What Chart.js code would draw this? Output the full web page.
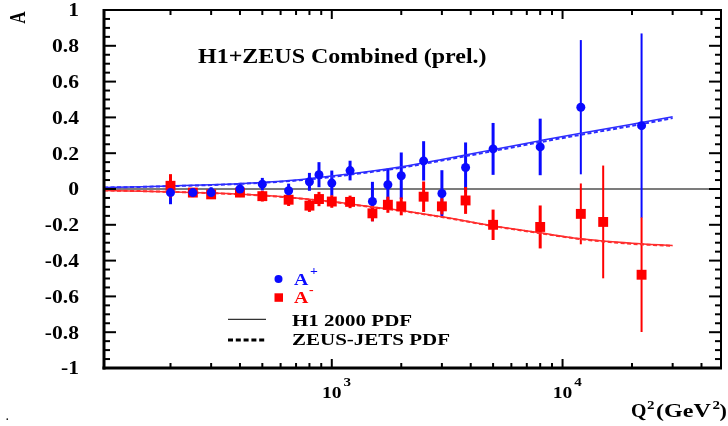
<!DOCTYPE html>
<html>
<head>
<meta charset="utf-8">
<script src="https://cdn.jsdelivr.net/npm/chart.js@4.4.1/dist/chart.umd.min.js"></script>
<style>
  html, body { margin: 0; padding: 0; background: #fff; overflow: hidden; }
  #wrap { width: 728px; height: 426px; }
  canvas { display: block; }
</style>
</head>
<body>
<div id="wrap"><canvas id="chart" width="728" height="426"></canvas></div>
<script>
// Measured asymmetries, Q^2 in GeV^2
const q2Plus = [200, 250, 300, 400, 500, 650, 800, 880, 1000, 1200, 1500, 1750, 2000, 2500, 3000, 3800, 5000, 8000, 12000, 22000];
const aPlus = [-0.02, -0.02, -0.02, 0.0, 0.027, -0.01, 0.04, 0.08, 0.033, 0.103, -0.07, 0.024, 0.074, 0.157, -0.025, 0.12, 0.224, 0.235, 0.457, 0.354];
const aPlusErr = [0.065, 0.025, 0.03, 0.035, 0.035, 0.04, 0.05, 0.07, 0.07, 0.055, 0.11, 0.09, 0.13, 0.11, 0.13, 0.14, 0.145, 0.158, 0.375, 0.515];

const q2Minus = [200, 250, 300, 400, 500, 650, 800, 880, 1000, 1200, 1500, 1750, 2000, 2500, 3000, 3800, 5000, 8000, 12000, 15000, 22000];
const aMinus = [0.018, -0.02, -0.03, -0.02, -0.04, -0.06, -0.093, -0.056, -0.07, -0.072, -0.136, -0.088, -0.097, -0.043, -0.097, -0.064, -0.2, -0.212, -0.139, -0.184, -0.479];
const aMinusErr = [0.065, 0.025, 0.025, 0.025, 0.03, 0.035, 0.035, 0.04, 0.035, 0.035, 0.045, 0.045, 0.05, 0.085, 0.045, 0.075, 0.085, 0.12, 0.17, 0.315, 0.32];

// Theory predictions
const curveQ2 = [103, 150, 200, 300, 500, 700, 1000, 1500, 2000, 3000, 5000, 8000, 12000, 20000, 30000];
const h1Plus = [0.009, 0.013, 0.017, 0.024, 0.037, 0.05, 0.072, 0.1, 0.124, 0.165, 0.22, 0.27, 0.312, 0.362, 0.404];
const zeusPlus = [0.008, 0.012, 0.016, 0.022, 0.035, 0.047, 0.068, 0.096, 0.119, 0.159, 0.212, 0.262, 0.303, 0.353, 0.396];
const h1Minus = [-0.008, -0.012, -0.016, -0.022, -0.035, -0.05, -0.07, -0.1, -0.12, -0.155, -0.205, -0.245, -0.278, -0.303, -0.316];
const zeusMinus = [-0.008, -0.012, -0.016, -0.023, -0.036, -0.051, -0.072, -0.102, -0.122, -0.157, -0.207, -0.247, -0.28, -0.306, -0.318];

// Axis ticks
const yTickValues = [1, 0.8, 0.6, 0.4, 0.2, 0, -0.2, -0.4, -0.6, -0.8, -1];
const yTickLabels = ['1', '0.8', '0.6', '0.4', '0.2', '0', '-0.2', '-0.4', '-0.6', '-0.8', '-1'];
const xTickValues = [1000, 10000];
const xTickBase = ['10', '10'];
const xTickExp = ['3', '4'];
const xMinorTicks = [200, 300, 400, 500, 600, 700, 800, 900, 2000, 3000, 4000, 5000, 6000, 7000, 8000, 9000, 20000, 30000, 40000];

const BLUE = '#0a0aff';
const RED = '#ff0000';
const BLUE_LINE = 'rgb(45,45,255)';
const RED_LINE = 'rgb(255,45,45)';
const SERIF = '"Liberation Serif", "Times New Roman", serif';

function toPoints(xs, ys) {
    return xs.map((x, i) => ({ x: x, y: ys[i] }));
}

function drawText(ctx, str, x, y, size, color, align, sx) {
    ctx.save();
    ctx.font = 'bold ' + size + 'px ' + SERIF;
    ctx.fillStyle = color;
    ctx.textAlign = 'left';
    ctx.textBaseline = 'alphabetic';
    const w = ctx.measureText(str).width * sx;
    let x0 = x;
    if (align === 'right') x0 = x - w;
    else if (align === 'center') x0 = x - w / 2;
    ctx.translate(x0, y);
    ctx.scale(sx, 1);
    ctx.fillText(str, 0, 0);
    ctx.restore();
    return x0 + w;
}

function line(ctx, x1, y1, x2, y2) {
    ctx.beginPath();
    ctx.moveTo(x1, y1);
    ctx.lineTo(x2, y2);
    ctx.stroke();
}

/**
 * Zero line, error bars, frame with inward ticks, and all text.
 */
const hepPlugin = {
    id: 'hep',
    beforeDatasetsDraw(chart) {
        const ctx = chart.ctx;
        const a = chart.chartArea;
        const ys = chart.scales.y;
        ctx.save();
        ctx.strokeStyle = '#505050';
        ctx.lineWidth = 1.5;
        const y0 = ys.getPixelForValue(0);
        line(ctx, a.left, y0, a.right, y0);

        // error bars for the two measured series
        [0, 1].forEach(idx => {
            const ds = chart.data.datasets[idx];
            const meta = chart.getDatasetMeta(idx);
            ctx.strokeStyle = ds.backgroundColor;
            meta.data.forEach((pt, i) => {
                const v = ds.data[i].y;
                const e = ds.errors[i];
                ctx.lineWidth = e >= 0.16 ? 2 : 3;
                line(ctx, pt.x, ys.getPixelForValue(v + e), pt.x, ys.getPixelForValue(v - e));
            });
        });
        ctx.restore();
    },
    afterDraw(chart) {
        const ctx = chart.ctx;
        const a = chart.chartArea;
        const xs = chart.scales.x;
        const ys = chart.scales.y;
        ctx.save();
        ctx.strokeStyle = '#000';

        // y ticks, left and right, pointing inward
        ctx.lineWidth = 2;
        for (let k = -20; k <= 20; k++) {
            const v = k * 0.05;
            const py = ys.getPixelForValue(v);
            const major = k % 4 === 0;
            const len = major ? 12 : 6;
            line(ctx, a.left, py, a.left + len, py);
            line(ctx, a.right, py, a.right - len, py);
        }
        // x ticks, top and bottom
        xTickValues.forEach(v => {
            const px = xs.getPixelForValue(v);
            line(ctx, px, a.bottom, px, a.bottom - 9);
            line(ctx, px, a.top, px, a.top + 9);
        });
        xMinorTicks.forEach(v => {
            const px = xs.getPixelForValue(v);
            line(ctx, px, a.bottom, px, a.bottom - 5);
            line(ctx, px, a.top, px, a.top + 5);
        });

        // frame
        ctx.lineWidth = 3;
        line(ctx, a.left, a.top - 1, a.left, a.bottom + 1.5);
        line(ctx, a.left - 1.5, a.bottom, a.right + 1, a.bottom);
        ctx.lineWidth = 2;
        line(ctx, a.left, a.top, a.right + 1, a.top);
        line(ctx, a.right, a.top, a.right, a.bottom);
        ctx.restore();

        // y tick labels
        yTickValues.forEach((v, i) => {
            drawText(ctx, yTickLabels[i], 79, ys.getPixelForValue(v) + 6.3, 18, '#000', 'right', 1.2);
        });
        // x tick labels with exponents
        xTickValues.forEach((v, i) => {
            const px = xs.getPixelForValue(v);
            const end = drawText(ctx, xTickBase[i], px, 398, 17.5, '#000', 'center', 1.12);
            drawText(ctx, xTickExp[i], end + 2, 385.7, 13.5, '#000', 'left', 1.12);
        });

        // axis titles
        ctx.save();
        ctx.font = 'bold 17px ' + SERIF;
        ctx.fillStyle = '#000';
        ctx.textAlign = 'center';
        ctx.textBaseline = 'alphabetic';
        ctx.translate(25, 17.5);
        ctx.scale(1.3, 1);
        ctx.rotate(-Math.PI / 2);
        ctx.fillText('A', 0, 0);
        ctx.restore();

        drawText(ctx, 'Q', 631, 417, 18, '#000', 'left', 1.1);
        drawText(ctx, '2', 647, 409, 12.5, '#000', 'left', 1.2);
        drawText(ctx, '(GeV', 656, 417, 18.5, '#000', 'left', 1.3);
        drawText(ctx, '2', 712.5, 409, 12.5, '#000', 'left', 1.2);
        drawText(ctx, ')', 719.5, 417, 18.5, '#000', 'left', 1.2);

        // title
        drawText(ctx, 'H1+ZEUS Combined (prel.)', 198, 63.3, 20, '#000', 'left', 1.2);

        // legend
        ctx.save();
        ctx.fillStyle = BLUE;
        ctx.beginPath();
        ctx.arc(278.5, 279, 4, 0, Math.PI * 2);
        ctx.fill();
        ctx.fillStyle = RED;
        ctx.fillRect(274.5, 293.3, 8.5, 8.5);
        ctx.strokeStyle = '#333';
        ctx.lineWidth = 1.3;
        line(ctx, 228, 319.3, 266, 319.3);
        ctx.strokeStyle = '#000';
        ctx.lineWidth = 3;
        ctx.setLineDash([5, 2.8]);
        line(ctx, 228, 340, 267, 340);
        ctx.restore();

        drawText(ctx, 'A', 294, 285, 16.5, BLUE, 'left', 1.2);
        drawText(ctx, '+', 310, 275, 11.5, BLUE, 'left', 1.2);
        drawText(ctx, 'A', 294, 303.3, 16.5, RED, 'left', 1.2);
        drawText(ctx, '-', 309, 294, 11.5, RED, 'left', 1.2);
        drawText(ctx, 'H1 2000 PDF', 292, 325.7, 17.5, '#000', 'left', 1.2);
        drawText(ctx, 'ZEUS-JETS PDF', 292, 345, 17.5, '#000', 'left', 1.2);

        drawText(ctx, '.', 6, 420, 10, '#000', 'left', 1);
    }
};

const ctx = document.getElementById('chart').getContext('2d');

const chart = new Chart(ctx, {
    type: 'scatter',
    data: {
        datasets: [
            {
                label: 'A+',
                data: toPoints(q2Plus, aPlus),
                errors: aPlusErr,
                pointStyle: 'circle',
                pointRadius: 4.5,
                borderWidth: 0,
                backgroundColor: BLUE,
                borderColor: BLUE
            },
            {
                label: 'A-',
                data: toPoints(q2Minus, aMinus),
                errors: aMinusErr,
                pointStyle: 'rect',
                pointRadius: 7,
                borderWidth: 0,
                backgroundColor: RED,
                borderColor: RED
            },
            {
                type: 'line',
                label: 'H1 2000 PDF A+',
                data: toPoints(curveQ2, h1Plus),
                borderColor: BLUE_LINE,
                borderWidth: 1.5,
                pointRadius: 0,
                cubicInterpolationMode: 'monotone',
                fill: false
            },
            {
                type: 'line',
                label: 'ZEUS-JETS PDF A+',
                data: toPoints(curveQ2, zeusPlus),
                borderColor: BLUE_LINE,
                borderWidth: 2,
                borderDash: [4, 2.5],
                pointRadius: 0,
                cubicInterpolationMode: 'monotone',
                fill: false
            },
            {
                type: 'line',
                label: 'H1 2000 PDF A-',
                data: toPoints(curveQ2, h1Minus),
                borderColor: RED_LINE,
                borderWidth: 1.5,
                pointRadius: 0,
                cubicInterpolationMode: 'monotone',
                fill: false
            },
            {
                type: 'line',
                label: 'ZEUS-JETS PDF A-',
                data: toPoints(curveQ2, zeusMinus),
                borderColor: RED_LINE,
                borderWidth: 2,
                borderDash: [4, 2.5],
                pointRadius: 0,
                cubicInterpolationMode: 'monotone',
                fill: false
            }
        ]
    },
    options: {
        responsive: false,
        animation: false,
        events: [],
        layout: { padding: { left: 104, right: 1, top: 10, bottom: 58 } },
        scales: {
            x: { type: 'logarithmic', min: 103, max: 48600, display: false },
            y: { type: 'linear', min: -1, max: 1, display: false }
        },
        plugins: {
            legend: { display: false },
            tooltip: { enabled: false }
        }
    },
    plugins: [hepPlugin]
});
</script>
</body>
</html>
